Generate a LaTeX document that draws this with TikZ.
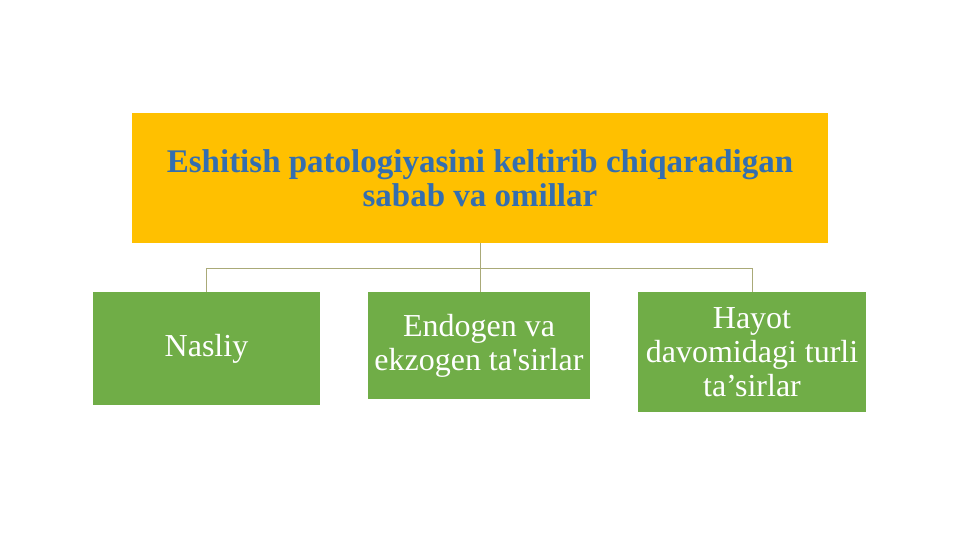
\documentclass[tikz,border=0pt]{standalone}
\usepackage{fontspec}
\setmainfont{Liberation Serif}[Ligatures=TeXOff]
\definecolor{topfill}{RGB}{255,192,0}
\definecolor{toptext}{RGB}{52,110,175}
\definecolor{boxfill}{RGB}{112,173,71}
\definecolor{linkcol}{RGB}{170,170,120}
\tikzset{
  headbox/.style={fill=topfill, draw=none, inner sep=0pt, outer sep=0pt, anchor=north west,
    text=toptext, font=\fontsize{33}{34}\selectfont\bfseries, align=center},
  leafbox/.style={fill=boxfill, draw=none, inner sep=0pt, outer sep=0pt, anchor=north west,
    text=white, font=\fontsize{32}{34}\selectfont, align=center},
  link/.style={draw=linkcol, line width=1pt}
}
\begin{document}
\begin{tikzpicture}[x=1pt,y=-1pt]
\useasboundingbox[fill=white] (0,0) rectangle (960,540);
\node[headbox, minimum width=696pt, minimum height=130pt] (top) at (132,113)
  {Eshitish patologiyasini keltirib chiqaradigan\\sabab va omillar};
\node[leafbox, minimum width=227pt, minimum height=113pt] (b1) at (93,292) {Nasliy};
\node[leafbox, minimum width=222pt, minimum height=107pt] (b2) at (368,292) {Endogen va\\ekzogen ta'sirlar};
\node[leafbox, minimum width=228pt, minimum height=120pt] (b3) at (638,292) {Hayot\\davomidagi turli\\ta’sirlar};
\coordinate (hub) at (480,268);
\draw[link] (top.south) -- (hub);
\draw[link] (hub) -- (hub |- b2.north);
\draw[link] (b1.north) |- (hub);
\draw[link] (hub) -| (b3.north);
\end{tikzpicture}
\end{document}
